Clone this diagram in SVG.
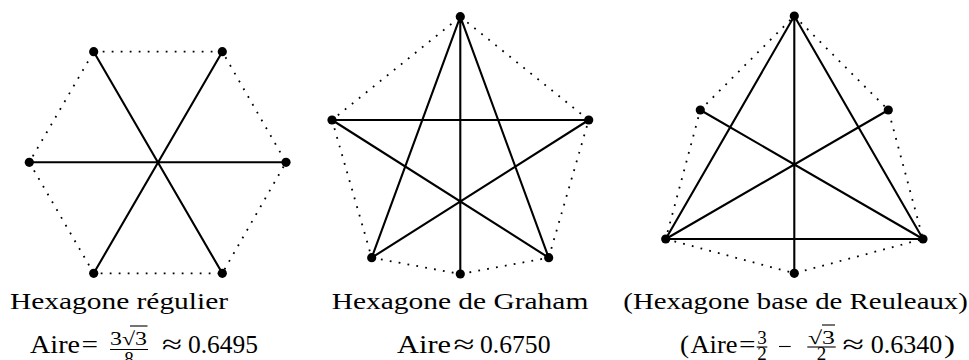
<svg xmlns="http://www.w3.org/2000/svg" width="969" height="360" viewBox="0 0 969 360">
<style>
.s{stroke:#000;stroke-width:2.1;fill:none;stroke-linecap:round}
.d{stroke:#000;stroke-width:1.8;fill:none;stroke-dasharray:1.8 7.2}
.p{fill:#000}
.t{font-family:"Liberation Serif",serif;font-size:24px;fill:#000}
.m{font-family:"Liberation Serif",serif;font-size:26px;fill:#000}
.f{font-family:"Liberation Serif",serif;font-size:19px;fill:#000}
.b{stroke:#000;stroke-width:1.1;fill:none}
</style>
<rect width="969" height="360" fill="#fff"/>
<g id="fig1">
  <g id="fig1-edges">
    <path class="d" d="M93.7 51.7H222.3L286 162.3L222.3 273.3H93.7L29.3 162.3Z"/>
    <path class="s" d="M93.7 51.7L222.3 273.3M222.3 51.7L93.7 273.3M29.3 162.3H286"/>
  </g>
  <g id="fig1-nodes">
    <circle class="p" cx="93.7" cy="51.7" r="4.6"/>
    <circle class="p" cx="222.3" cy="51.7" r="4.6"/>
    <circle class="p" cx="29.3" cy="162.3" r="4.6"/>
    <circle class="p" cx="286" cy="162.3" r="4.6"/>
    <circle class="p" cx="93.7" cy="273.3" r="4.6"/>
    <circle class="p" cx="222.3" cy="273.3" r="4.6"/>
  </g>
</g>
<g id="fig2">
  <g id="fig2-edges">
    <path class="d" d="M460.3 16.7L588.7 120L548.7 257.7L460.3 274L371.7 257.7L332 120Z"/>
    <path class="s" d="M460.3 16.7V274M332 120H588.7M460.3 16.7L371.7 257.7M460.3 16.7L548.7 257.7M332 120L548.7 257.7M588.7 120L371.7 257.7"/>
  </g>
  <g id="fig2-nodes">
    <circle class="p" cx="460.3" cy="16.7" r="4.6"/>
    <circle class="p" cx="332" cy="120" r="4.6"/>
    <circle class="p" cx="588.7" cy="120" r="4.6"/>
    <circle class="p" cx="371.7" cy="257.7" r="4.6"/>
    <circle class="p" cx="548.7" cy="257.7" r="4.6"/>
    <circle class="p" cx="460.3" cy="274" r="4.6"/>
  </g>
</g>
<g id="fig3">
  <g id="fig3-edges">
    <path class="d" d="M794.3 16L888.3 110L923 239L794.3 273.3L665.7 239L700.3 110Z"/>
    <path class="s" d="M794.3 16V273.3M794.3 16L665.7 239M794.3 16L923 239M665.7 239H923M700.3 110L923 239M888.3 110L665.7 239"/>
  </g>
  <g id="fig3-nodes">
    <circle class="p" cx="794.3" cy="16" r="4.6"/>
    <circle class="p" cx="700.3" cy="110" r="4.6"/>
    <circle class="p" cx="888.3" cy="110" r="4.6"/>
    <circle class="p" cx="665.7" cy="239" r="4.6"/>
    <circle class="p" cx="923" cy="239" r="4.6"/>
    <circle class="p" cx="794.3" cy="273.3" r="4.6"/>
  </g>
</g>
<g id="labels">
  <text class="t" x="10" y="309" textLength="218" lengthAdjust="spacingAndGlyphs">Hexagone régulier</text>
  <text class="t" x="331.7" y="309" textLength="256.6" lengthAdjust="spacingAndGlyphs">Hexagone de Graham</text>
  <text class="t" x="623.3" y="309" textLength="344.5" lengthAdjust="spacingAndGlyphs">(Hexagone base de Reuleaux)</text>

  <text class="m" x="30" y="353" textLength="50" lengthAdjust="spacingAndGlyphs">Aire</text>
  <text class="m" x="81.5" y="353" textLength="16.5" lengthAdjust="spacingAndGlyphs">=</text>
  <text class="f" x="110" y="345" textLength="37" lengthAdjust="spacingAndGlyphs">3√3</text>
  <line class="b" x1="130" y1="326" x2="147.5" y2="326"/>
  <line class="b" x1="110" y1="349.5" x2="148" y2="349.5"/>
  <text class="f" x="129" y="365" text-anchor="middle">8</text>
  <text class="m" x="162" y="353" textLength="20" lengthAdjust="spacingAndGlyphs">≈</text>
  <text class="m" x="188" y="353" textLength="70" lengthAdjust="spacingAndGlyphs">0.6495</text>

  <text class="m" x="397" y="353" textLength="54" lengthAdjust="spacingAndGlyphs">Aire</text>
  <text class="m" x="453.5" y="353" textLength="21" lengthAdjust="spacingAndGlyphs">≈</text>
  <text class="m" x="480" y="353" textLength="70.5" lengthAdjust="spacingAndGlyphs">0.6750</text>

  <text class="m" x="680" y="353" textLength="9" lengthAdjust="spacingAndGlyphs">(</text>
  <text class="m" x="690.5" y="353" textLength="47" lengthAdjust="spacingAndGlyphs">Aire</text>
  <text class="m" x="739" y="353" textLength="16.5" lengthAdjust="spacingAndGlyphs">=</text>
  <text class="f" x="762" y="343.5" text-anchor="middle">3</text>
  <line class="b" x1="756.7" y1="347" x2="767.3" y2="347"/>
  <text class="f" x="762" y="359.5" text-anchor="middle">2</text>
  <line class="b" x1="779" y1="346.5" x2="790.7" y2="346.5"/>
  <text class="f" x="808" y="343.5" textLength="27" lengthAdjust="spacingAndGlyphs">√3</text>
  <line class="b" x1="822" y1="325" x2="835" y2="325"/>
  <line class="b" x1="807.3" y1="347" x2="835.7" y2="347"/>
  <text class="f" x="821.5" y="359.5" text-anchor="middle">2</text>
  <text class="m" x="842.5" y="353" textLength="21.5" lengthAdjust="spacingAndGlyphs">≈</text>
  <text class="m" x="870.7" y="353" textLength="71.6" lengthAdjust="spacingAndGlyphs">0.6340</text>
  <text class="m" x="944" y="353" textLength="11" lengthAdjust="spacingAndGlyphs">)</text>
</g>
</svg>
